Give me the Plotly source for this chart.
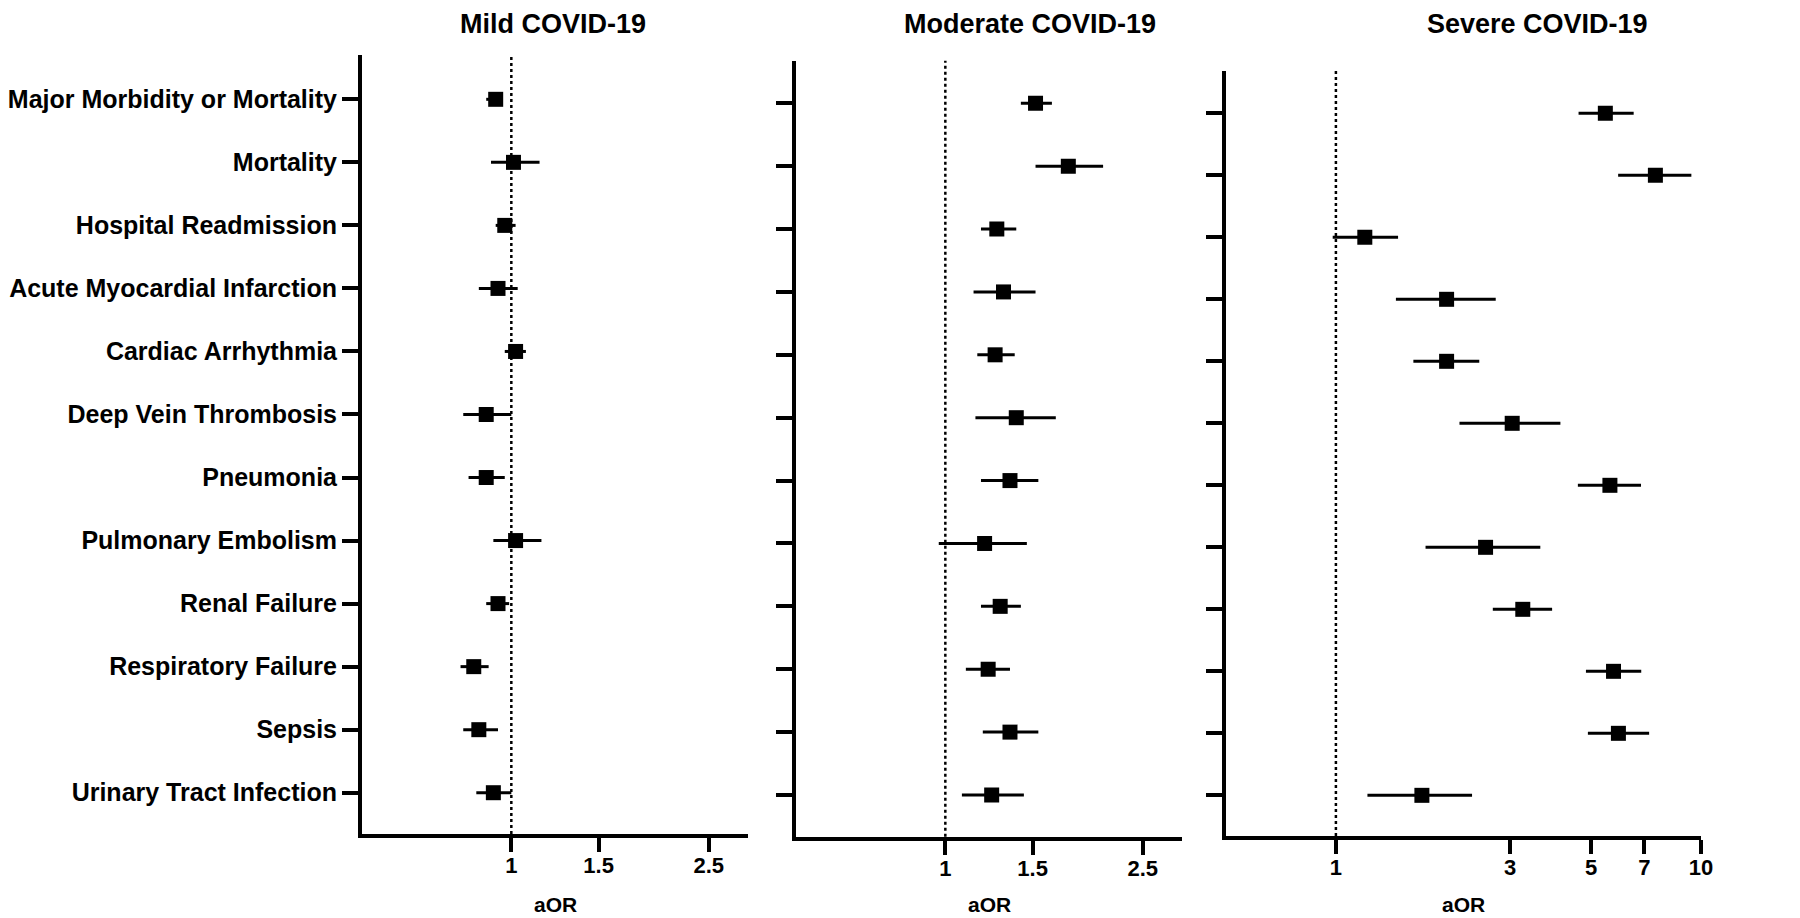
import plotly.graph_objects as go
import math

categories = [
    "Major Morbidity or Mortality", "Mortality", "Hospital Readmission",
    "Acute Myocardial Infarction", "Cardiac Arrhythmia", "Deep Vein Thrombosis",
    "Pneumonia", "Pulmonary Embolism", "Renal Failure", "Respiratory Failure",
    "Sepsis", "Urinary Tract Infection",
]

mild_or = [0.93, 1.01, 0.97, 0.94, 1.02, 0.89, 0.89, 1.02, 0.94, 0.84, 0.86, 0.92]
mild_lo = [0.89, 0.91, 0.93, 0.86, 0.97, 0.80, 0.82, 0.92, 0.89, 0.79, 0.80, 0.85]
mild_hi = [0.96, 1.14, 1.02, 1.03, 1.07, 1.00, 0.97, 1.15, 0.99, 0.90, 0.94, 1.00]

mod_or = [1.52, 1.77, 1.27, 1.31, 1.26, 1.39, 1.35, 1.20, 1.29, 1.22, 1.35, 1.24]
mod_lo = [1.42, 1.52, 1.18, 1.14, 1.16, 1.15, 1.18, 0.97, 1.18, 1.10, 1.19, 1.08]
mod_hi = [1.64, 2.08, 1.39, 1.52, 1.38, 1.67, 1.54, 1.46, 1.42, 1.35, 1.54, 1.44]

sev_or = [5.47, 7.50, 1.20, 2.01, 2.01, 3.04, 5.63, 2.57, 3.25, 5.76, 5.94, 1.72]
sev_lo = [4.62, 5.93, 0.98, 1.46, 1.63, 2.18, 4.60, 1.76, 2.69, 4.84, 4.90, 1.22]
sev_hi = [6.54, 9.41, 1.48, 2.74, 2.47, 4.12, 6.85, 3.63, 3.91, 6.86, 7.21, 2.36]

panel_titles = ["Mild COVID-19", "Moderate COVID-19", "Severe COVID-19"]
xtick_vals = [[1, 1.5, 2.5], [1, 1.5, 2.5], [1, 3, 5, 7, 10]]
x_title = "aOR"

# page body has an 8px margin, so the figure is offset by 8px
OFF = 8
W, H = 1800 - OFF, 918 - OFF
FONT = "Liberation Sans, Arial, Helvetica, sans-serif"

# screen-pixel layout of each panel
panels = [
    dict(x0=362, x1=748, yt=55, yb=834, yr=[11.655, -0.703], xr=[0.5, 3.0], tx=553),
    dict(x0=796, x1=1182, yt=60.7, yb=836.7, yr=[11.663, -0.677], xr=[0.5, 3.0], tx=1030),
    dict(x0=1226, x1=1701, yt=70.7, yb=836, yr=[11.656, -0.687], xr=[0.5, 10.0], tx=1537),
]
series = [(mild_or, mild_lo, mild_hi), (mod_or, mod_lo, mod_hi), (sev_or, sev_lo, sev_hi)]


def px(x):
    return (x - OFF) / W


def py(y):
    return 1 - (y - OFF) / H


fig = go.Figure()
for i, (p, (orv, lo, hi)) in enumerate(zip(panels, series)):
    n = "" if i == 0 else str(i + 1)
    fig.add_trace(go.Scatter(
        x=orv, y=categories, mode="markers",
        xaxis="x" + n, yaxis="y" + n,
        marker=dict(symbol="square", size=15, color="black"),
        error_x=dict(type="data", symmetric=False,
                     array=[h - o for h, o in zip(hi, orv)],
                     arrayminus=[o - l for o, l in zip(orv, lo)],
                     color="black", thickness=3, width=0),
        showlegend=False, hoverinfo="x+y",
    ))
    fig.update_layout(**{
        "xaxis" + n: dict(
            type="log", domain=[px(p["x0"]), px(p["x1"])],
            range=[math.log10(p["xr"][0]), math.log10(p["xr"][1])],
            anchor="y" + n, showline=True, linewidth=4, linecolor="black",
            ticks="outside", ticklen=14, tickwidth=4, tickcolor="black",
            tickvals=xtick_vals[i], ticktext=[str(v) for v in xtick_vals[i]],
            tickfont=dict(family=FONT, size=22, color="black", weight="bold"),
            ticklabelstandoff=-5,
            showgrid=False, zeroline=False, automargin=False,
        ),
        "yaxis" + n: dict(
            type="category", categoryarray=categories,
            domain=[py(p["yb"]), py(p["yt"])], range=p["yr"],
            anchor="x" + n, showline=True, linewidth=4, linecolor="black",
            ticks="outside", ticklen=16, tickwidth=4, tickcolor="black",
            showticklabels=(i == 0),
            tickfont=dict(family=FONT, size=25, color="black", weight="bold"),
            showgrid=False, zeroline=False, automargin=False,
        ),
    })
    fig.add_shape(type="line", xref="x" + n, yref="y" + n + " domain",
                  x0=1, x1=1, y0=0, y1=1,
                  line=dict(color="black", width=2.5, dash="dot"))
    fig.add_annotation(text=panel_titles[i], xref="paper", yref="paper",
                       x=px(p["tx"]), y=py(24), showarrow=False,
                       xanchor="center", yanchor="middle",
                       font=dict(family=FONT, size=27, color="black", weight="bold"))
    fig.add_annotation(text=x_title, xref="paper", yref="paper",
                       x=px((p["x0"] + p["x1"]) / 2), y=py(904), showarrow=False,
                       xanchor="center", yanchor="middle",
                       font=dict(family=FONT, size=21, color="black", weight="bold"))

fig.update_layout(
    width=W, height=H, margin=dict(l=0, r=0, t=0, b=0),
    paper_bgcolor="white", plot_bgcolor="white", template="none",
    font=dict(family=FONT, color="black"),
)
fig.write_html("out.html")
